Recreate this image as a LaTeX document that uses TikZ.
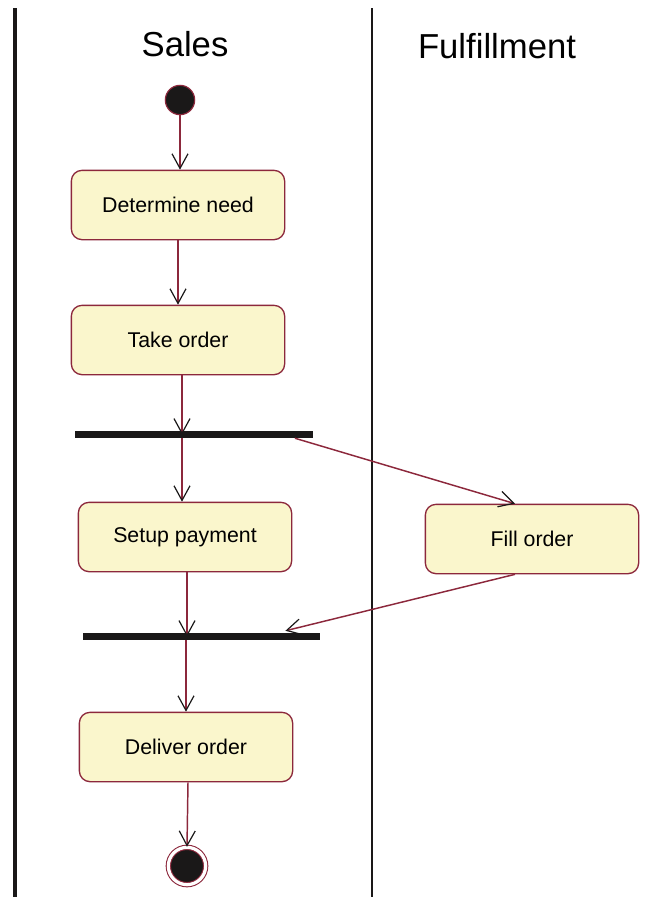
\documentclass[tikz,border=0pt]{standalone}
\usepackage{fontspec}
\setmainfont{Liberation Sans}
\usepackage{tikz}
\usetikzlibrary{arrows.meta}
\usetikzlibrary{calc}
\definecolor{umlred}{RGB}{140,40,60}
\definecolor{umlfill}{RGB}{250,246,204}
\definecolor{umlblack}{RGB}{26,24,24}
\tikzset{
    base_node/.style = {align=center, inner sep=0pt, text centered},
    action_node/.style = {base_node, rectangle, rounded corners=8pt, draw=umlred, fill=umlfill, line width=1pt, minimum width=160pt, minimum height=52pt, font=\fontsize{16}{18}\selectfont},
    bar_node/.style = {base_node, rectangle, fill=umlblack, minimum width=178pt, minimum height=5.2pt},
    start_node/.style = {base_node, circle, draw=umlred, fill=umlblack, line width=0.9pt, minimum size=22pt},
    end_node/.style = {base_node, circle, draw=umlred, fill=umlblack, line width=0.8pt, double=white, double distance=2.4pt, minimum size=28pt},
    lane_title/.style = {base_node, font=\fontsize{26}{30}\selectfont},
    flow/.style = {draw=umlred, line width=1.1pt, -{Straight Barb[color=umlblack, length=11pt, width=12pt, line width=0.9pt]}}
}
\begin{document}
\begin{tikzpicture}
            [x=0.75pt, y=-0.75pt]
            \useasboundingbox (0,0) rectangle (657,897);

            % swimlanes
            \draw[line width=3pt, umlblack] (15,8) -- (15,897);
            \draw[line width=1.4pt, umlblack] (372,8) -- (372,897);
            \node[lane_title] (sales) at (185,44) {Sales};
            \node[lane_title] (fulfil) at (497,46) {Fulfillment};

            % nodes
            \node[start_node] (start) at (180,100) {};
            \node[action_node] (need) at (178,205) {Determine need};
            \node[action_node] (take) at (178,340) {Take order};
            \node[bar_node] (forkA) at (194,434.5) {};
            \node[action_node] (setup) at (185,537) {Setup payment};
            \node[action_node] (fill) at (532,539) {Fill order};
            \node[bar_node] (forkB) at (201.5,636.5) {};
            \node[action_node] (deliver) at (186,747) {Deliver order};
            \node[end_node] (stop) at (187,866) {};

            % flows
            \coordinate (takeout) at ($(take.south)+(4,0)$);
            \coordinate (forkAout) at ($(forkA.south east)+(-18,0)$);
            \coordinate (fillin) at ($(fill.north)+(-17,0)$);
            \coordinate (fillout) at ($(fill.south)+(-17,0)$);
            \coordinate (forkBin) at ($(forkB.north east)+(-35,-2)$);
            \draw[flow] (start.south) -- (need.north -| start.south);
            \draw[flow] (need.south) -- (take.north);
            \draw[flow] (takeout) -- (takeout |- forkA.center);
            \draw[flow] (forkA.south -| takeout) -- (setup.north -| takeout);
            \draw[flow] (forkAout) -- (fillin);
            \draw[flow] (setup.south -| 187,0) -- (forkB.center -| 187,0);
            \draw[flow] (fillout) -- (forkBin);
            \draw[flow] (forkB.south -| deliver.north) -- (deliver.north);
            \draw[flow] ($(deliver.south)+(2,0)$) -- (stop.north);
        \end{tikzpicture}
\end{document}
